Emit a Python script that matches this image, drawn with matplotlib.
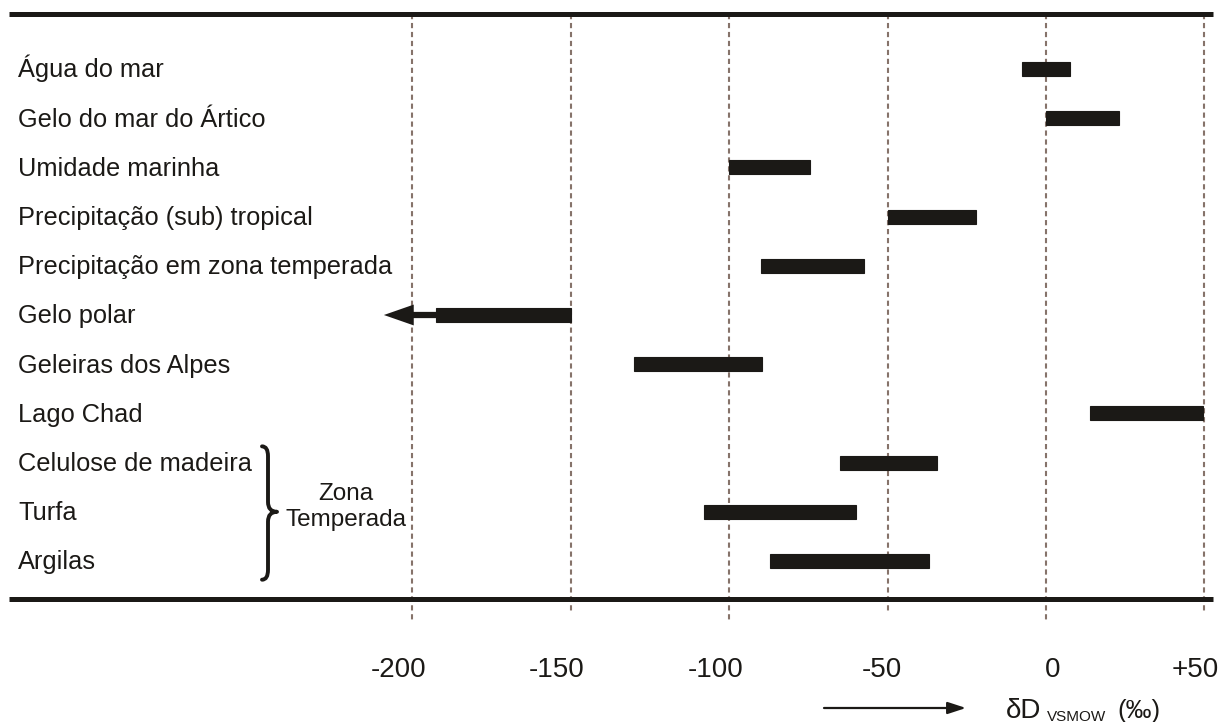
"""
plot.py
Faixas de δD (VSMOW) em águas naturais, gelo e materiais da zona temperada.
"""

import numpy as np
import matplotlib
matplotlib.use("Agg")
import matplotlib.pyplot as plt
import matplotlib.transforms as mtransforms
from matplotlib.path import Path
from matplotlib.patches import PathPatch, FancyArrowPatch

plt.rcParams["font.family"] = ["Liberation Sans", "DejaVu Sans"]

# ── Data ──────────────────────────────────────────────────────────────────────

LABELS = ["Água do mar", "Gelo do mar do Ártico", "Umidade marinha",
          "Precipitação (sub) tropical", "Precipitação em zona temperada",
          "Gelo polar", "Geleiras dos Alpes", "Lago Chad",
          "Celulose de madeira", "Turfa", "Argilas"]
LOW  = [-7.5, 0, -100, -50, -90, -192.5, -130, 14, -65, -108, -87]
HIGH = [7.5, 23, -74.5, -22, -57.5, -150, -89.5, 49.5, -34.5, -60, -37]
ARROW_TO = {"Gelo polar": -209}          # faixa aberta para valores menores
TICKS       = [-200, -150, -100, -50, 0, 50]
TICK_LABELS = ["-200", "-150", "-100", "-50", "0", "+50"]
GROUP       = ["Celulose de madeira", "Turfa", "Argilas"]
GROUP_LABEL = ["Zona", "Temperada"]

# ── Layout (pixels of the 1220x722 canvas) ────────────────────────────────────

W, H = 1220, 722
ZERO_PX, PX_PER_UNIT = 1046, 3.168
ROW0_PX, ROW_PX = 69, 49.2

INK, GRID = "#1b1916", "#86736a"

def row_of(py):
    return (py - ROW0_PX) / ROW_PX

fig = plt.figure(figsize=(W / 100, H / 100), dpi=100)
ax = fig.add_axes([0, 0, 1, 1])
ax.set_xlim(-ZERO_PX / PX_PER_UNIT, (W - ZERO_PX) / PX_PER_UNIT)
ax.set_ylim(row_of(H), row_of(0))
ax.axis("off")

ov = fig.add_axes([0, 0, 1, 1])   # pixel overlay for decorations
ov.set_xlim(0, W); ov.set_ylim(H, 0)
ov.axis("off"); ov.patch.set_alpha(0)

rows = np.arange(len(LABELS))
low, high = np.array(LOW), np.array(HIGH)

# dashed reference lines
for v in TICKS:
    bottom = 623 if v % 100 == 0 else 614
    ax.plot([v, v], [row_of(14), row_of(bottom)], color=GRID, lw=1.5,
            ls=(0, (2.5, 1.8)), zorder=1)

# top / bottom rules
xt = ax.get_yaxis_transform()
for py in (14, 599):
    ax.plot([9 / W, 1213 / W], [row_of(py)] * 2, transform=xt, color=INK,
            lw=3.6, solid_capstyle="butt", zorder=3)

# range bars
ax.barh(rows, high - low, left=low, height=0.285, color=INK, edgecolor=INK,
        lw=0.8, zorder=4)

for name, tip in ARROW_TO.items():
    i = LABELS.index(name)
    ax.add_patch(FancyArrowPatch(
        (low[i], i), (tip, i),
        arrowstyle="simple,head_length=21.5,head_width=15,tail_width=4.5",
        mutation_scale=1, shrinkA=0, shrinkB=0, color=INK, lw=0, zorder=4))

# row labels
for i, lab in enumerate(LABELS):
    ax.text(18 / W, i + 0.17, lab, transform=xt, fontsize=18.3,
            color=INK, va="baseline", ha="left")

# tick labels
for v, lab in zip(TICKS, TICK_LABELS):
    ax.text(v + 14 / PX_PER_UNIT, row_of(677), lab, fontsize=20, color=INK,
            ha="right", va="baseline")

# brace for the temperate-zone group
bt = mtransforms.blended_transform_factory(ov.transData, ax.transData)
g = [LABELS.index(n) for n in GROUP]
top, bot, mid = g[0] - 0.33, g[-1] + 0.38, (g[0] + g[-1]) / 2
x0, xl, xtip, r = 268, 262, 277, 0.2
verts = [(xl, top), (x0, top), (x0, top + r),
         (x0, mid - r),
         (x0, mid), (xtip, mid),
         (x0, mid), (x0, mid + r),
         (x0, bot - r),
         (x0, bot), (xl, bot)]
codes = [Path.MOVETO, Path.CURVE3, Path.CURVE3,
         Path.LINETO,
         Path.CURVE3, Path.CURVE3,
         Path.CURVE3, Path.CURVE3,
         Path.LINETO,
         Path.CURVE3, Path.CURVE3]
ax.add_patch(PathPatch(Path(verts, codes), transform=bt, fill=False,
                       color=INK, lw=2.8, capstyle="round", joinstyle="round"))
ov.text(346, 500, GROUP_LABEL[0], fontsize=17.5, color=INK, ha="center", va="baseline")
ov.text(346, 526, GROUP_LABEL[1], fontsize=17.5, color=INK, ha="center", va="baseline")

# axis label with direction arrow
ov.annotate("", xy=(966, 708), xytext=(824, 708),
            arrowprops=dict(arrowstyle="-|>,head_length=1.1,head_width=0.36",
                            lw=1.6, color=INK, shrinkA=0, shrinkB=0))
ov.text(1006, 718, "δD", fontsize=20, color=INK, va="baseline")
ov.text(1047, 721, "VSMOW", fontsize=11, color=INK, va="baseline")
ov.text(1117, 718, "(‰)", fontsize=18.5, color=INK, va="baseline")

fig.savefig("out.png", dpi=100)
